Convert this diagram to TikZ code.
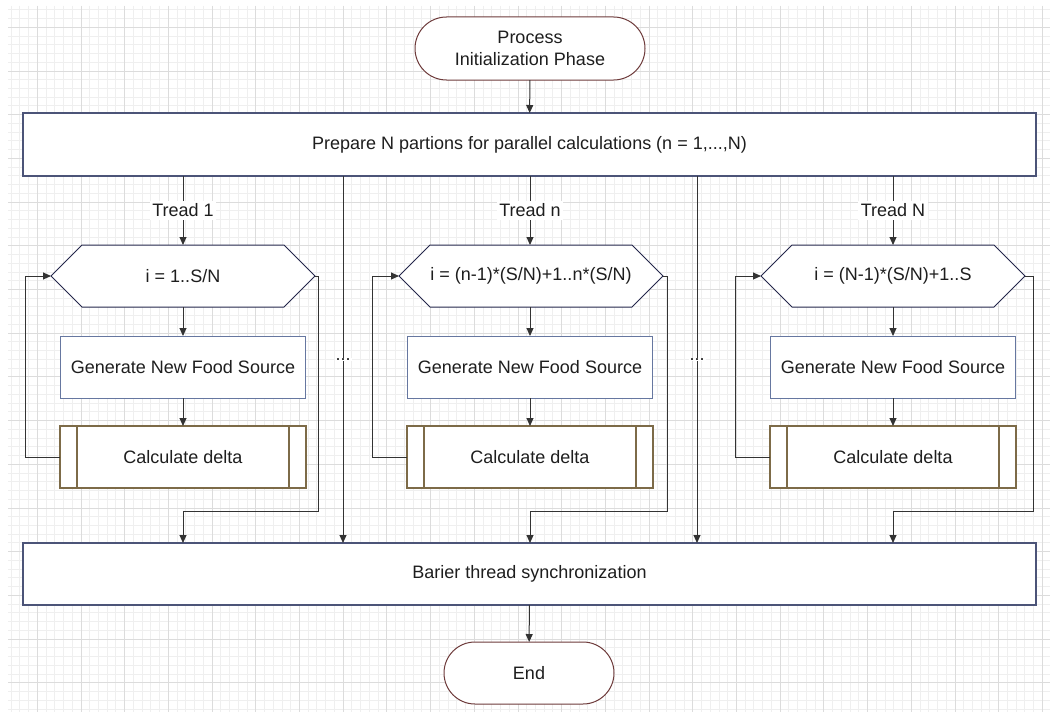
\documentclass[tikz,border=0pt]{standalone}
\usepackage{fontspec}
\setmainfont{Liberation Sans}
\usetikzlibrary{arrows.meta,calc,shapes.misc}

\definecolor{gridminor}{HTML}{EFEFEF}
\definecolor{gridmajor}{HTML}{DCDCDC}
\definecolor{termline}{HTML}{6E3B3B}
\definecolor{blockline}{HTML}{4C5478}
\definecolor{hexline}{HTML}{23264A}
\definecolor{genline}{HTML}{6677A0}
\definecolor{calcline}{HTML}{7D6B48}
\definecolor{wire}{HTML}{333333}
\definecolor{ink}{HTML}{1E1E1E}

\pgfdeclarelayer{grid}
\pgfdeclarelayer{back}
\pgfsetlayers{grid,back,main}

% hexagonal loop header drawn behind its text node
\newcommand\drawhex[1]{%
  \begin{pgfonlayer}{back}
    \path[hexframe] (#1.west) -- ($(#1.north west)+(31,0)$) -- ($(#1.north east)+(-31,0)$)
      -- (#1.east) -- ($(#1.south east)+(-31,0)$) -- ($(#1.south west)+(31,0)$) -- cycle;
  \end{pgfonlayer}}

% predefined-process bars inside a box
\newcommand\procbars[1]{%
  \draw[calcline, line width=1.1pt] ($(#1.north west)+(17,0)$) -- ($(#1.south west)+(17,0)$)
    ($(#1.north east)+(-17,0)$) -- ($(#1.south east)+(-17,0)$);}

\begin{document}
\begin{tikzpicture}[x=1pt,y=-1pt,
  every node/.style={font=\fontsize{18}{21.5}\selectfont, text=ink, inner sep=0pt, outer sep=0pt, align=center},
  terminal/.style={rounded rectangle, draw=termline, line width=1pt, fill=white, minimum height=63pt},
  block/.style={rectangle, draw=blockline, line width=1.2pt, fill=white, minimum width=1013pt, minimum height=63pt},
  hexnode/.style={rectangle, minimum width=264pt, minimum height=62pt},
  hexframe/.style={draw=hexline, line width=1pt, fill=white},
  genbox/.style={rectangle, draw=genline, line width=1pt, fill=white, minimum width=245pt, minimum height=62pt},
  calcbox/.style={rectangle, draw=calcline, line width=1.1pt, fill=white, minimum width=246pt, minimum height=62pt},
  wireline/.style={draw=wire, line width=1pt},
  arr/.style={wireline, -{Triangle[length=8pt,width=7pt]}},
  tag/.style={fill=white, inner sep=2.5pt},
]

% page and grid paper
\begin{pgfonlayer}{grid}
  \fill[white] (0,0) rectangle (1054,717);
  \useasboundingbox (0,0) rectangle (1054,717);
  \begin{scope}
    \clip (8,6) rectangle (1050,712);
    \foreach \i in {-4,...,116}
      \draw[gridminor, line width=1pt] ({37.3+8.74*\i},6) -- ({37.3+8.74*\i},712);
    \foreach \j in {-3,...,79}
      \draw[gridminor, line width=1pt] (8,{27.3+8.74*\j}) -- (1050,{27.3+8.74*\j});
    \foreach \i in {-1,...,23}
      \draw[gridmajor, line width=1pt] ({37.3+43.7*\i},6) -- ({37.3+43.7*\i},712);
    \foreach \j in {-1,...,16}
      \draw[gridmajor, line width=1pt] (8,{27.3+43.7*\j}) -- (1050,{27.3+43.7*\j});
  \end{scope}
\end{pgfonlayer}

% terminals and wide blocks
\node[terminal, minimum width=230pt] (start) at (530,48.5) {Process\\Initialization Phase};
\node[block] (prep) at (529.5,144.5) {Prepare N partions for parallel calculations (n = 1,...,N)};
\node[block, minimum height=62pt] (sync) at (529.5,574) {Barier thread synchronization};
\node[terminal, minimum width=170pt, minimum height=62pt] (end) at (529,673) {End};

% thread 1
\node[hexnode] (h1) at (183,276) {i = 1..S/N};
\node[genbox] (g1) at (183,367) {Generate New Food Source};
\node[calcbox] (c1) at (183,457) {Calculate delta};
% thread n
\node[hexnode] (h2) at (531,276) {i = (n-1)*(S/N)+1..n*(S/N)};
\node[genbox] (g2) at (530,367) {Generate New Food Source};
\node[calcbox] (c2) at (530,457) {Calculate delta};
% thread N
\node[hexnode] (h3) at (893,276) {i = (N-1)*(S/N)+1..S};
\node[genbox] (g3) at (893,367) {Generate New Food Source};
\node[calcbox] (c3) at (893,457) {Calculate delta};

\drawhex{h1}\drawhex{h2}\drawhex{h3}
\procbars{c1}\procbars{c2}\procbars{c3}

% routing points
\coordinate (j1) at (318,511);
\coordinate (j2) at (667,511);
\coordinate (j3) at (1033,511);
\coordinate (d1) at (343,358);
\coordinate (d2) at (697,358);

% connectors
\draw[arr] (start) -- (prep);
\draw[arr] (sync) -- (end);

\draw[arr] (prep.south -| g1) -- node[tag] {Tread 1} (h1.north -| g1);
\draw[arr] (prep.south -| g2) -- node[tag] {Tread n} (h2.north -| g2);
\draw[arr] (prep.south -| g3) -- node[tag] {Tread N} (h3.north -| g3);

\foreach \k in {1,2,3} {
  \draw[arr] (h\k.south -| g\k) -- (g\k);
  \draw[arr] (g\k) -- (c\k);
  \draw[arr] (c\k.west) -- ++(-35,0) |- (h\k.west);
  \draw[arr] (h\k.east) -| (j\k) -| (sync.north -| g\k);
}

\draw[arr] (prep.south -| d1) -- node[tag, inner sep=1pt] {...} (sync.north -| d1);
\draw[arr] (prep.south -| d2) -- node[tag, inner sep=1pt] {...} (sync.north -| d2);

\end{tikzpicture}
\end{document}
